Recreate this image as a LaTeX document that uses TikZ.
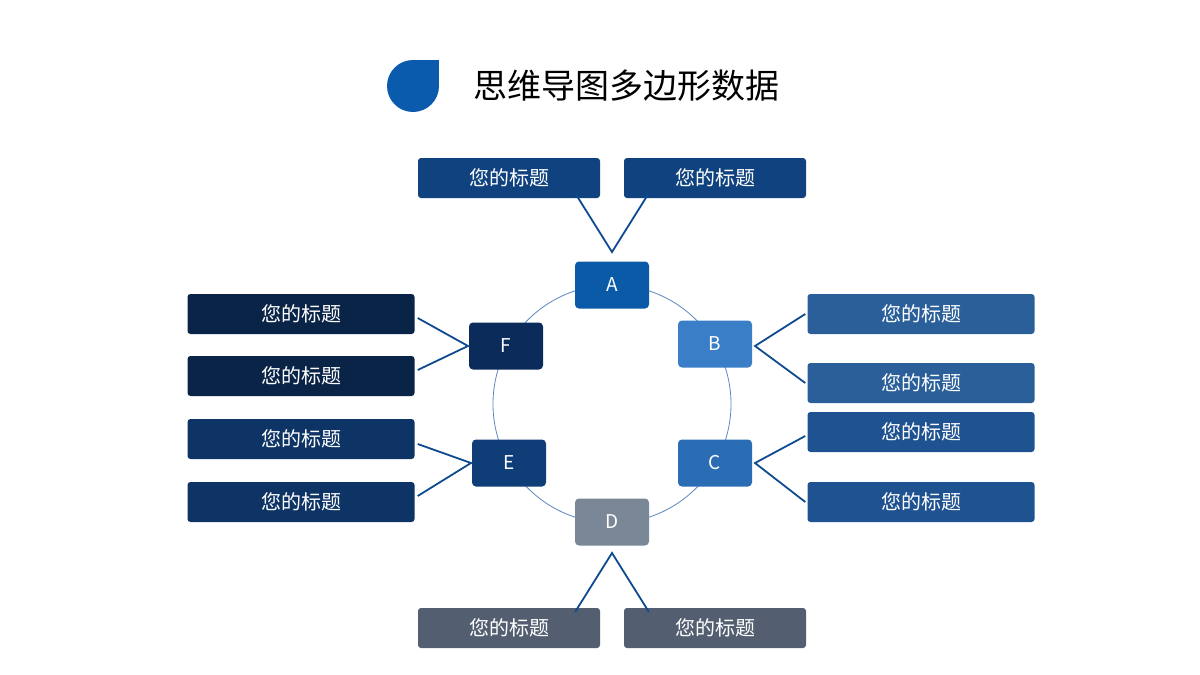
\documentclass[tikz,border=0pt]{standalone}
\usepackage{fontspec}
\setmainfont{Noto Sans CJK SC}
\begin{document}
\begin{tikzpicture}[x=1pt,y=-1pt,
 lbl/.style={draw=none,fill=#1,rounded corners=3pt,minimum width=182pt,minimum height=40pt,text=white,font=\fontsize{20}{22}\selectfont,inner sep=0pt},
 wlbl/.style={lbl=#1,minimum width=227pt},
 hub/.style={fill=#1,rounded corners=4pt,minimum width=74pt,minimum height=47pt,text=white,font=\fontsize{19}{21}\selectfont,inner sep=0pt},
 conn/.style={draw=linec,line width=1.8pt},
 ring/.style={draw=ringc,line width=0.8pt}]
\definecolor{linec}{HTML}{0D4A8F}\definecolor{ringc}{HTML}{5B87C0}
\definecolor{cA}{HTML}{0A5AA8}\definecolor{cB}{HTML}{3A7EC8}\definecolor{cC}{HTML}{2B6DB5}
\definecolor{cD}{HTML}{7A8797}\definecolor{cE}{HTML}{0E3D77}\definecolor{cF}{HTML}{0B2C5A}
\definecolor{tA}{HTML}{0F427E}\definecolor{tB}{HTML}{2A5F99}\definecolor{tC}{HTML}{1F5290}
\definecolor{tD}{HTML}{535F70}\definecolor{tE}{HTML}{0D3464}\definecolor{tF}{HTML}{0A2448}
\definecolor{drop}{HTML}{0A5AAD}
\useasboundingbox (0,0) rectangle (1200,675);
\fill[drop] (413,86) circle[radius=26pt];
\fill[drop] (413,60) rectangle (439,86);
\node[anchor=west,font=\fontsize{34}{36}\selectfont] (title) at (470,86) {思维导图多边形数据};
\draw[ring] (612,404) circle[radius=119pt];
\node[hub=cA] (A) at (612,285) {A};
\node[hub=cB] (B) at (715,344) {B};
\node[hub=cC] (C) at (715,463) {C};
\node[hub=cD] (D) at (612,522) {D};
\node[hub=cE] (E) at (509,463) {E};
\node[hub=cF] (F) at (506,346) {F};
\node[lbl=tA] (a1) at (509,178) {您的标题};
\node[lbl=tA] (a2) at (715,178) {您的标题};
\node[lbl=tD] (d1) at (509,628) {您的标题};
\node[lbl=tD] (d2) at (715,628) {您的标题};
\node[wlbl=tB] (b1) at (921,314) {您的标题};
\node[wlbl=tB] (b2) at (921,383) {您的标题};
\node[wlbl=tC] (c1) at (921,432) {您的标题};
\node[wlbl=tC] (c2) at (921,502) {您的标题};
\node[wlbl=tF] (f1) at (301,314) {您的标题};
\node[wlbl=tF] (f2) at (301,376) {您的标题};
\node[wlbl=tE] (e1) at (301,439) {您的标题};
\node[wlbl=tE] (e2) at (301,502) {您的标题};
\coordinate (pa) at (612,252); \coordinate (pd) at (612,553);
\coordinate (pb) at (755,346); \coordinate (pc) at (755,463);
\coordinate (pf) at (468,346); \coordinate (pe) at (471,463);
\draw[conn] ([xshift=-25pt,yshift=5pt]a1.south east) -- (pa) -- ([xshift=25pt,yshift=5pt]a2.south west);
\draw[conn] ([xshift=-25pt,yshift=-4pt]d1.north east) -- (pd) -- ([xshift=25pt,yshift=-4pt]d2.north west);
\draw[conn] ([xshift=-2pt]b1.west) -- (pb) -- ([xshift=-2pt]b2.west);
\draw[conn] ([xshift=-2pt,yshift=-4pt]c1.west) -- (pc) -- ([xshift=-2pt]c2.west);
\draw[conn] ([xshift=3pt,yshift=-4pt]f1.east) -- (pf) -- ([xshift=3pt,yshift=6pt]f2.east);
\draw[conn] ([xshift=3pt,yshift=-5pt]e1.east) -- (pe) -- ([xshift=3pt,yshift=6pt]e2.east);
\end{tikzpicture}
\end{document}
